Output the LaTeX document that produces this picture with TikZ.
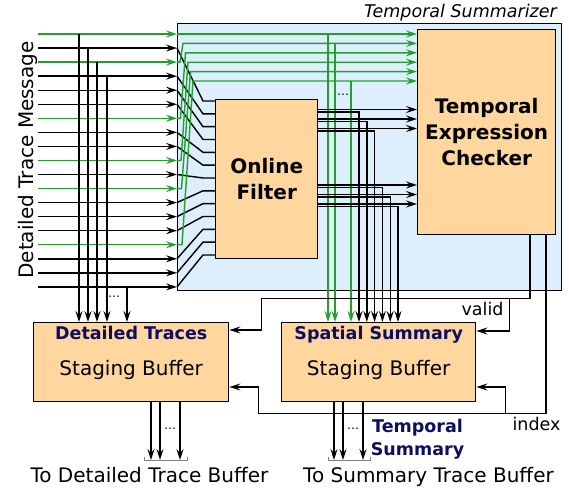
\documentclass[tikz,border=0pt]{standalone}
\usepackage{fontspec}
\setmainfont{DejaVu Sans}
\usetikzlibrary{arrows.meta,positioning,calc}
\definecolor{sumblue}{RGB}{221,238,253}
\definecolor{boxorange}{RGB}{254,214,158}
\definecolor{tracegreen}{RGB}{34,160,44}
\definecolor{titlenavy}{RGB}{14,14,96}
\tikzset{
  sumbox/.style={draw, line width=1.4pt, fill=sumblue, inner sep=0pt,
    anchor=north west},
  unitbox/.style={draw, line width=1.4pt, fill=boxorange, inner sep=0pt,
    anchor=north west, align=center,
    font=\fontsize{20}{25.7}\selectfont\bfseries},
  bufbox/.style={unitbox},
  titletxt/.style={font=\fontsize{17.5}{22.3}\selectfont\bfseries,
    text=titlenavy, anchor=base, inner sep=0pt},
  plaintxt/.style={font=\fontsize{20}{24}\selectfont, anchor=base,
    inner sep=0pt},
  sigtxt/.style={font=\fontsize{17.5}{21}\selectfont, anchor=base,
    inner sep=0pt},
  dotstxt/.style={font=\fontsize{12}{12}\selectfont, anchor=base,
    inner sep=0pt},
  wire/.style={line width=1.4pt},
  arrw/.style={wire, -{Stealth[length=11pt, width=7pt, inset=4pt]}},
  garrw/.style={arrw, draw=tracegreen},
  bracket/.style={line width=0.8pt, draw=gray},
}

\begin{document}
\begin{tikzpicture}[x=1pt, y=-1pt]
  \useasboundingbox (0,0) rectangle (569,487);

  % summarizer frame with its two units
  \node[sumbox, minimum width=384pt, minimum height=267pt] (summ) at (177,23) {};
  \node[sigtxt, font=\fontsize{17.5}{21}\selectfont\itshape, anchor=base east]
    (summlbl) at (557,18) {Temporal Summarizer};
  \node[unitbox, minimum width=102pt, minimum height=159pt] (filter)
    at (215,99) {Online\\Filter};
  \node[unitbox, minimum width=138pt, minimum height=205pt] (tec)
    at (417,29) {Temporal\\Expression\\Checker};

  % staging buffers
  \node[bufbox, minimum width=195pt, minimum height=79pt] (dbuf) at (33,322) {};
  \node[bufbox, minimum width=194pt, minimum height=79pt] (sbuf) at (281,322) {};
  \node[titletxt] (dtitle) at ([yshift=-17pt]dbuf.north) {Detailed Traces};
  \node[plaintxt] (dsub) at ([yshift=-53.7pt]dbuf.north) {Staging Buffer};
  \node[titletxt] (stitle) at ([yshift=-17pt]sbuf.north) {Spatial Summary};
  \node[plaintxt] (ssub) at ([yshift=-53.7pt]sbuf.north) {Staging Buffer};

  \node[plaintxt, rotate=90] (msg) at (33,160) {Detailed Trace Message};

  % trace message inputs
  \foreach \i in {0,...,18}
    \coordinate (in\i) at (38,{34+14.05*\i});

  % plain signals fan into the filter
  \foreach \i/\k in {1/0,3/1,4/2,5/3,7/4,8/5,10/6,12/7,13/8,14/9,16/10,17/11,18/12} {
    \coordinate (fs\k) at ($(filter.north west)+(0,{2+12.83*\k})$);
    \draw[arrw] (in\i) -- (in\i -| summ.west);
    \draw[wire] (in\i -| summ.west) -- ([xshift=-12pt]fs\k) -- (fs\k);
  }

  % temporal signals bypass the filter
  \foreach \i/\k in {0/0,2/1,6/2,9/3,11/4,15/5} {
    \coordinate (gt\k) at ($(tec.north west)+(0,{5+9.4*\k})$);
    \draw[garrw] (in\i) -- (in\i -| summ.west);
  }
  \draw[garrw] (in0 -| summ.west) -- (gt0);
  \foreach \i/\k in {2/1,6/2,9/3,11/4,15/5}
    \draw[garrw] (in\i -| summ.west) -- ++({2.5+0.5*\k},0)
      -- ($(summ.west |- gt\k)+({3.5+2.5*\k},0)$) -- (gt\k);

  \foreach \k/\dx in {0/47,1/54,5/70} {
    \coordinate (gd\k) at ($(sbuf.north west)+(\dx,0)$);
    \draw[garrw] (gd\k |- gt\k) -- (gd\k);
  }
  \node[dotstxt] (gdots) at (343,95) {\dots};

  % filter results to checker and spatial buffer
  \foreach \dy/\dx in {10.5/78,20/85.8,29.5/93.6,86/101.4,95.5/109.2,105/117} {
    \coordinate (fo) at ($(filter.north east)+(0,\dy)$);
    \coordinate (fb) at ($(filter.north east)+(0,{\dy+2.5})$);
    \coordinate (sd) at ($(sbuf.north west)+(\dx,0)$);
    \draw[arrw] (fo) -- (fo -| tec.west);
    \draw[arrw] (fb) -| (sd);
  }

  % raw copies into the detailed buffer
  \foreach \i/\dx in {0/46,1/55,2/64,3/74,18/94} {
    \coordinate (dd) at ($(dbuf.north west)+(\dx,0)$);
    \draw[arrw] (dd |- in\i) -- (dd);
  }
  \node[dotstxt] (ddots) at (114,297) {\dots};

  % valid / index control lines
  \coordinate (vtap) at ($(tec.south west)+(113,0)$);
  \coordinate (itap) at ($(tec.south west)+(129,0)$);
  \coordinate (vbus) at ($(vtap)+(0,63)$);
  \coordinate (ibus) at ($(itap)+(0,178)$);
  \coordinate (dvin) at ($(dbuf.north east)+(0,8)$);
  \coordinate (svin) at ($(sbuf.north east)+(0,9)$);
  \coordinate (dxin) at ($(dbuf.north east)+(0,65)$);
  \coordinate (sxin) at ($(sbuf.north east)+(0,65)$);
  \coordinate (vbr) at ($(svin)+(33,0)$);
  \coordinate (ibr) at ($(sxin)+(29,0)$);

  \draw[arrw] (vtap) -- (vbus) -| ($(dvin)+(32,0)$) -- (dvin);
  \draw[arrw] (vbr |- vbus) -- (vbr) -- (svin);
  \draw[arrw] (itap) -- (ibus) -| ($(dxin)+(29,0)$) -- (dxin);
  \draw[arrw] (ibr |- ibus) -- (ibr) -- (sxin);
  \node[sigtxt] (validlbl) at (482.5,315) {valid};
  \node[sigtxt] (indexlbl) at (536.5,430) {index};

  % buffer outputs
  \coordinate (dout) at (165.5,460);
  \coordinate (sout) at (349,460);
  \foreach \dx in {118,127,147} {
    \coordinate (dq) at ($(dbuf.south west)+(\dx,0)$);
    \draw[arrw] (dq) -- (dq |- dout);
  }
  \foreach \dx in {53,62,82} {
    \coordinate (sq) at ($(sbuf.south west)+(\dx,0)$);
    \draw[arrw] (sq) -- (sq |- sout);
  }
  \draw[bracket] ($(dout)+(-21.5,-3)$) -- ++(0,3) -- ++(43,0) -- ++(0,-3);
  \draw[bracket] ($(sout)+(-21,-3)$) -- ++(0,3) -- ++(42,0) -- ++(0,-3);
  \node[dotstxt] (dodots) at (170,429) {\dots};
  \node[dotstxt] (sodots) at (353,429) {\dots};

  \node[titletxt, anchor=center, align=center] (tsum) at (417.5,439.3)
    {Temporal\\Summary};
  \node[plaintxt] (dtarget) at (149.5,482) {To Detailed Trace Buffer};
  \node[plaintxt] (starget) at (428.5,482) {To Summary Trace Buffer};
\end{tikzpicture}
\end{document}
